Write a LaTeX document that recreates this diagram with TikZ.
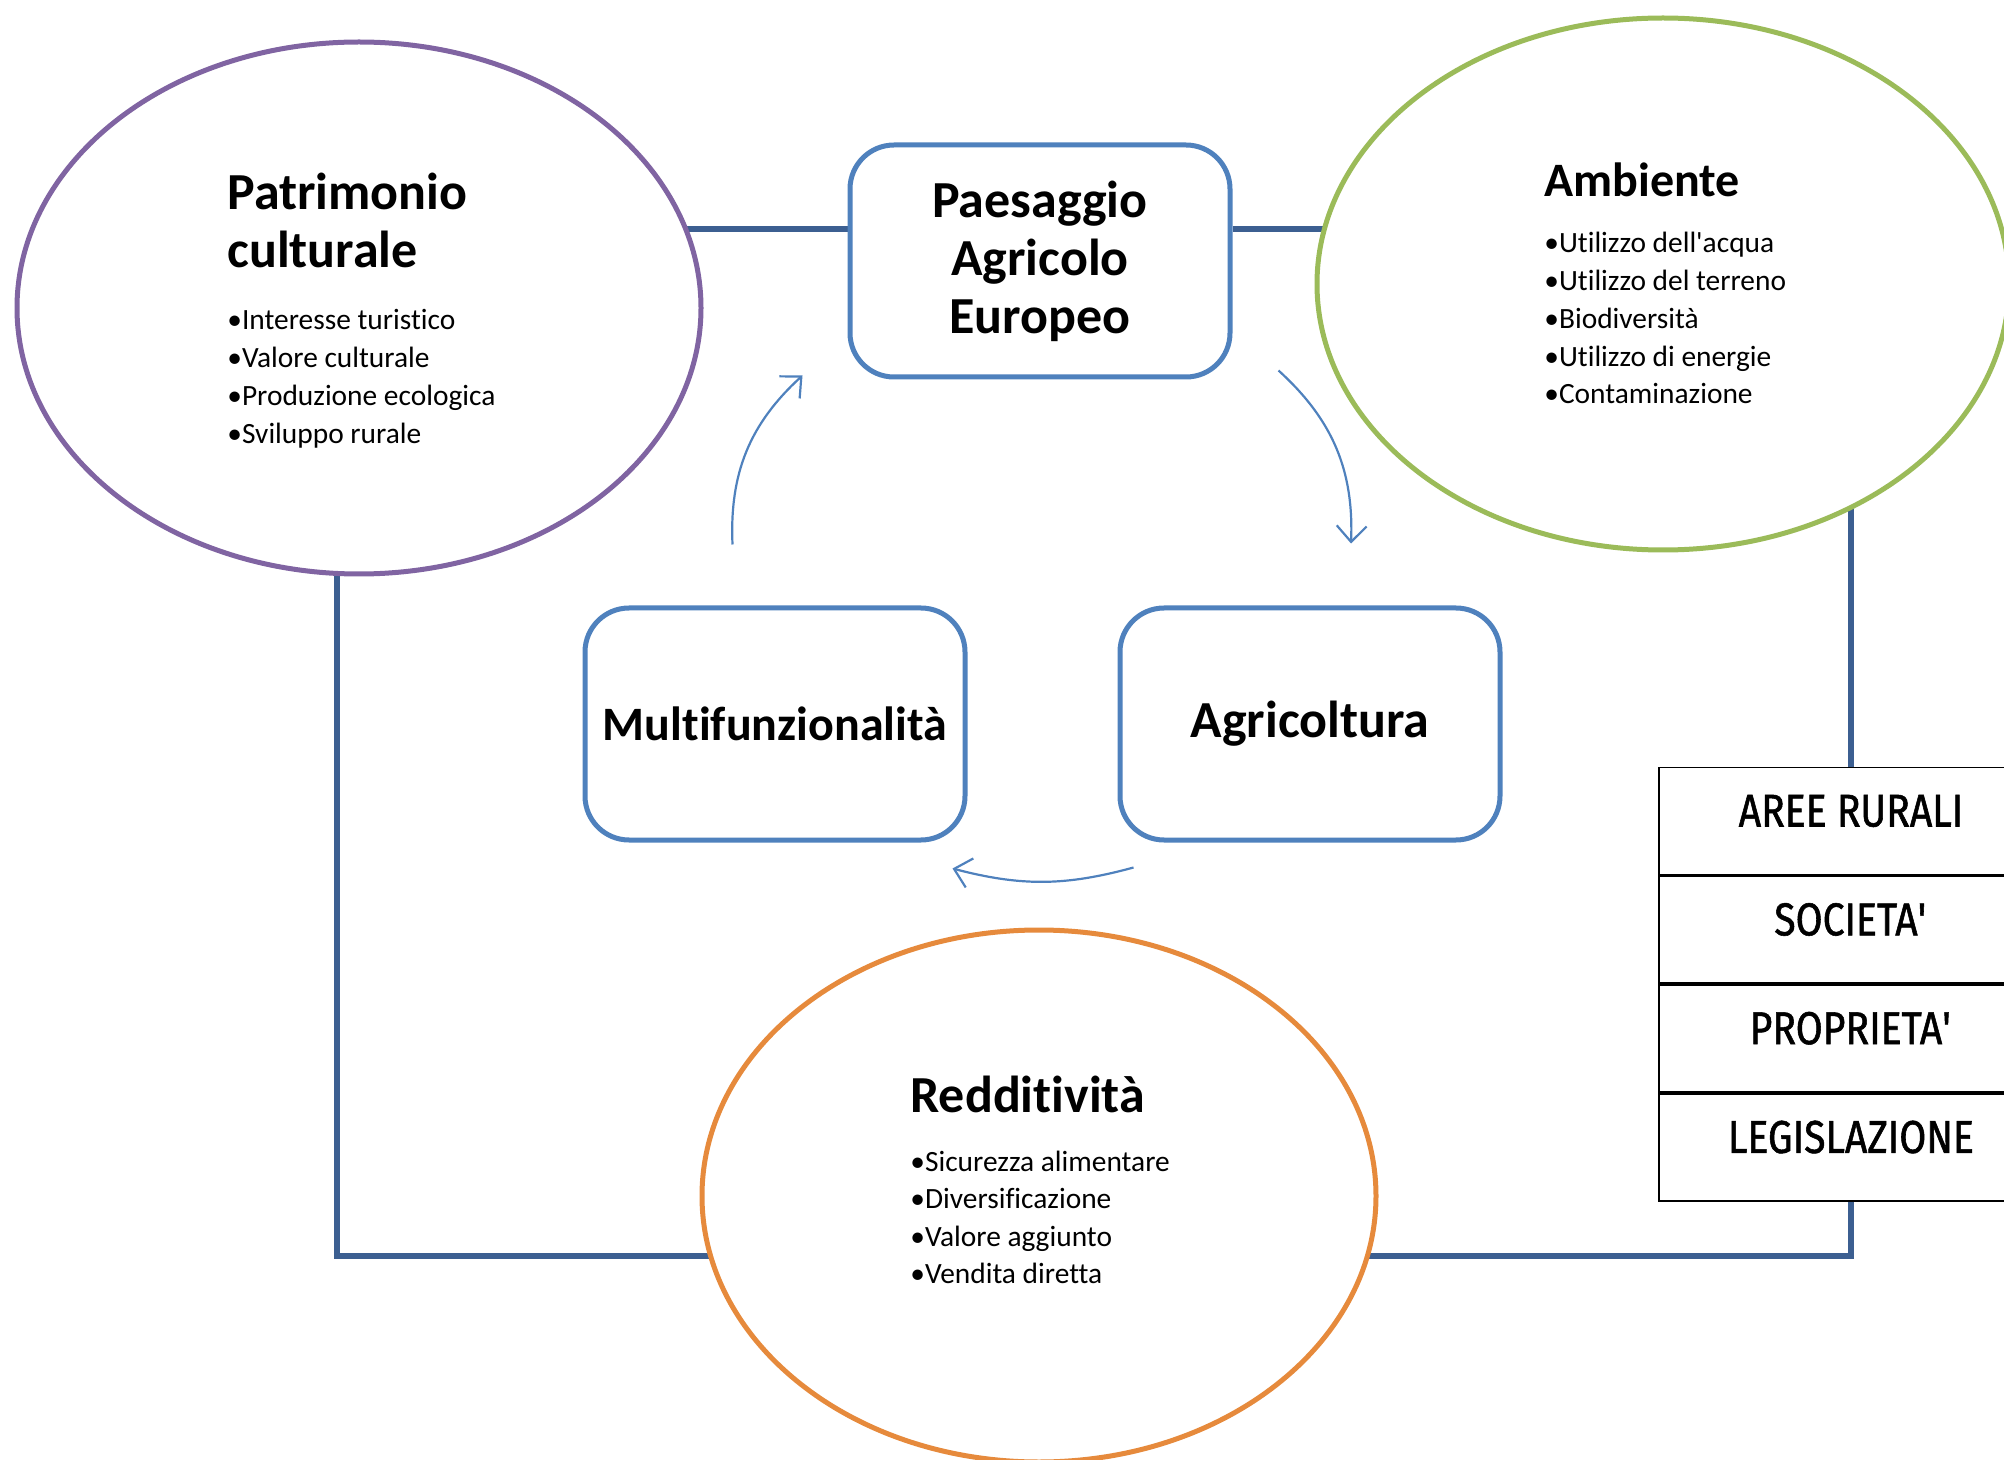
\documentclass[tikz,border=0pt]{standalone}
\usepackage{fontspec}
\setmainfont{Carlito}[Ligatures={NoCommon}]
\newfontfamily\tabfont[FakeStretch=0.85,FakeBold=1.2]{Fira Sans}
\usepackage{tikz}
\usetikzlibrary{positioning}
\usetikzlibrary{arrows.meta}
\usetikzlibrary{shapes.geometric}
\usetikzlibrary{backgrounds}

\definecolor{patviola}{RGB}{128,100,162}
\definecolor{ambverde}{RGB}{155,187,89}
\definecolor{redarancio}{RGB}{230,138,60}
\definecolor{boxblu}{RGB}{79,129,189}
\definecolor{linkblu}{RGB}{60,95,145}

\tikzset{
  ring/.style={ellipse, line width=2.5pt, fill=white},
  tile/.style={rectangle, draw=boxblu, line width=2.5pt, rounded corners=22pt, fill=white,
    minimum width=190pt, minimum height=116pt, inner sep=0pt, align=center,
    font=\fontsize{26}{29}\selectfont\bfseries},
  head/.style={anchor=base west, inner sep=0pt, align=left, font=\fontsize{26}{29}\selectfont\bfseries},
  item/.style={anchor=base west, inner sep=0pt, font=\fontsize{14.7}{18}\selectfont},
  row/.style={rectangle, draw, line width=0.9pt, fill=white, minimum width=192pt,
    minimum height=53.5pt, inner sep=0pt, text height=16.5pt, text depth=11pt,
    font=\tabfont\fontsize{23}{26}\selectfont},
  link/.style={draw=linkblu, line width=2.8pt},
  flow/.style={draw=boxblu, line width=1.1pt, -{Straight Barb[length=8pt,width=15pt]}}
}

\begin{document}
\begin{tikzpicture}[x=0.5pt, y=-0.5pt]
  \clip (0,0) rectangle (2004,1460);

  % the three rings
  \node[ring, draw=patviola, minimum width=342pt, minimum height=266pt] (pc) at (359,308) {};
  \node[ring, draw=ambverde, minimum width=346pt, minimum height=266pt] (amb) at (1663,284) {};
  \node[ring, draw=redarancio, minimum width=337pt, minimum height=266pt] (red) at (1039,1196) {};

  \node[head] (pch) at (227,268) {Patrimonio\\culturale};
  \foreach \t [count=\i] in {Interesse turistico, Valore culturale, Produzione ecologica, Sviluppo rurale}
    \node[item] (pc\i) at (227,{330+37.7*(\i-1)}) {•\t};

  \node[head, font=\fontsize{24}{28}\selectfont\bfseries] (ambh) at (1544,197) {Ambiente};
  \foreach \t [count=\i] in {Utilizzo dell\textquotesingle acqua, Utilizzo del terreno, Biodiversità, Utilizzo di energie, Contaminazione}
    \node[item] (amb\i) at (1544,{253+37.7*(\i-1)}) {•\t};

  \node[head] (redh) at (910,1112) {Redditività};
  \foreach \t [count=\i] in {Sicurezza alimentare, Diversificazione, Valore aggiunto, Vendita diretta}
    \node[item] (red\i) at (910,{1171+37.5*(\i-1)}) {•\t};

  % the cycle
  \node[tile] (pag) at (1040,261) {Paesaggio\\Agricolo\\Europeo};
  \node[tile, font=\fontsize{24}{28}\selectfont\bfseries] (mf) at (775,724) {Multifunzionalità};
  \node[tile] (ag) at (1310,724) {Agricoltura};

  % table
  \node[row] (ar) at (1851,821) {AREE RURALI};
  \node[row, below=0pt of ar] (so) {SOCIETA\textquotesingle};
  \node[row, below=0pt of so] (pr) {PROPRIETA\textquotesingle};
  \node[row, below=0pt of pr] (le) {LEGISLAZIONE};

  \begin{scope}[on background layer]
    \draw[link] ([yshift=16pt]pag.west) -- ([yshift=16pt]pag.west -| pc.center);
    \draw[link] ([yshift=16pt]pag.east) -- ([yshift=16pt]pag.east -| amb.center);
    \draw[link] ([yshift=-30pt]red.center) -| ([xshift=-11pt]pc.center);
    \draw[link] ([yshift=-30pt]red.center) -| (le.south);
    \draw[link] (ar.north) -- (ar.north |- amb.center);
  \end{scope}

  \draw[flow] ([shift={(75pt,30.5pt)}]mf.north west) to[bend left=25] ([shift={(-22.5pt,2pt)}]pag.south west);
  \draw[flow] ([shift={(23pt,4.5pt)}]pag.south east) to[bend left=25] ([shift={(20.5pt,31pt)}]ag.north);
  \draw[flow] ([shift={(8pt,-12.5pt)}]ag.south west) to[bend left=15] ([shift={(-7.5pt,-13pt)}]mf.south east);
\end{tikzpicture}
\end{document}
